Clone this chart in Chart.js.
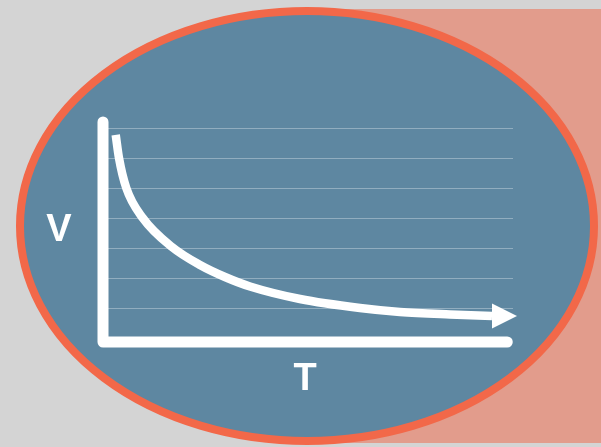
<!DOCTYPE html>
<html><head><meta charset="utf-8">
<script src="https://cdn.jsdelivr.net/npm/chart.js@4.4.0/dist/chart.umd.min.js"></script>
<style>html,body{margin:0;padding:0;background:#d4d4d4;overflow:hidden}canvas{display:block}</style>
</head><body>
<canvas id="c" width="601" height="447"></canvas>
<script>
// Data
const temperature = [0.31, 0.39, 0.568, 0.971, 1.683, 2.366, 2.976, 3.585, 4.805, 6.268, 7.244, 8.463, 9.488];
const volume      = [6.77, 6.0, 5.0, 4.0, 3.033, 2.433, 2.033, 1.717, 1.3, 1.0, 0.867, 0.783, 0.733];
const gridValues  = [1, 2, 3, 4, 5, 6, 7];
const xLabel = 'T';
const yLabel = 'V';
const xRange = [0, 10];
const yRange = [-0.1333, 7.4];
const axisEnds = { x: 9.86, y: 7.2 };

const points = temperature.map((t, i) => ({ x: t, y: volume[i] }));

const backdrop = {
  id: 'backdrop',
  beforeDraw(chart) {
    const ctx = chart.ctx;
    ctx.save();
    ctx.fillStyle = '#d4d4d4';
    ctx.fillRect(0, 0, chart.width, chart.height);
    ctx.fillStyle = '#e29c8c';
    ctx.fillRect(300, 9, chart.width - 300, 434);
    ctx.beginPath();
    ctx.ellipse(307, 226, 287, 215, 0, 0, Math.PI * 2);
    ctx.fillStyle = '#5e87a1';
    ctx.fill();
    ctx.lineWidth = 8;
    ctx.strokeStyle = '#f26849';
    ctx.stroke();
    ctx.restore();
  }
};

const axesAndLabels = {
  id: 'axesAndLabels',
  beforeDatasetsDraw(chart) {
    const ctx = chart.ctx, xs = chart.scales.x, ys = chart.scales.y, ca = chart.chartArea;
    const x0 = xs.getPixelForValue(xRange[0]);
    const y0 = ys.getPixelForValue(yRange[0]);
    ctx.save();
    ctx.strokeStyle = '#ffffff';
    ctx.lineWidth = 11;
    ctx.lineCap = 'round';
    ctx.lineJoin = 'round';
    ctx.beginPath();
    ctx.moveTo(x0, ys.getPixelForValue(axisEnds.y));
    ctx.lineTo(x0, y0);
    ctx.lineTo(xs.getPixelForValue(axisEnds.x), y0);
    ctx.stroke();
    ctx.fillStyle = '#ffffff';
    ctx.font = 'bold 38px "Liberation Sans", Arial, sans-serif';
    ctx.textAlign = 'center';
    ctx.textBaseline = 'alphabetic';
    ctx.fillText(xLabel, (ca.left + ca.right) / 2 - 3, ca.bottom + 48);
    ctx.fillText(yLabel, ca.left - 44, (ca.top + ca.bottom) / 2 + 12);
    ctx.restore();
  },
  afterDatasetsDraw(chart) {
    const meta = chart.getDatasetMeta(0);
    const last = meta.data[meta.data.length - 1];
    const ctx = chart.ctx;
    ctx.save();
    ctx.fillStyle = '#ffffff';
    ctx.beginPath();
    ctx.moveTo(last.x, last.y - 12.5);
    ctx.lineTo(last.x + 25, last.y);
    ctx.lineTo(last.x, last.y + 12.5);
    ctx.closePath();
    ctx.fill();
    ctx.restore();
  }
};

new Chart(document.getElementById('c'), {
  type: 'line',
  data: {
    datasets: [{
      data: points,
      borderColor: '#ffffff',
      borderWidth: 8.5,
      borderCapStyle: 'butt',
      cubicInterpolationMode: 'monotone',
      pointRadius: 0,
      fill: false
    }]
  },
  options: {
    responsive: false,
    animation: false,
    devicePixelRatio: 1,
    layout: { padding: { left: 103, right: 88, top: 116, bottom: 105 } },
    plugins: { legend: { display: false }, tooltip: { enabled: false } },
    scales: {
      x: {
        type: 'linear', min: xRange[0], max: xRange[1],
        grid: { display: false, drawTicks: false },
        border: { display: false },
        ticks: { display: false }
      },
      y: {
        type: 'linear', min: yRange[0], max: yRange[1],
        afterBuildTicks(scale) { scale.ticks = gridValues.map(v => ({ value: v })); },
        grid: { color: 'rgba(255,255,255,0.32)', lineWidth: 1, drawTicks: false },
        border: { display: false },
        ticks: { display: false }
      }
    }
  },
  plugins: [backdrop, axesAndLabels]
});
</script>
</body></html>
